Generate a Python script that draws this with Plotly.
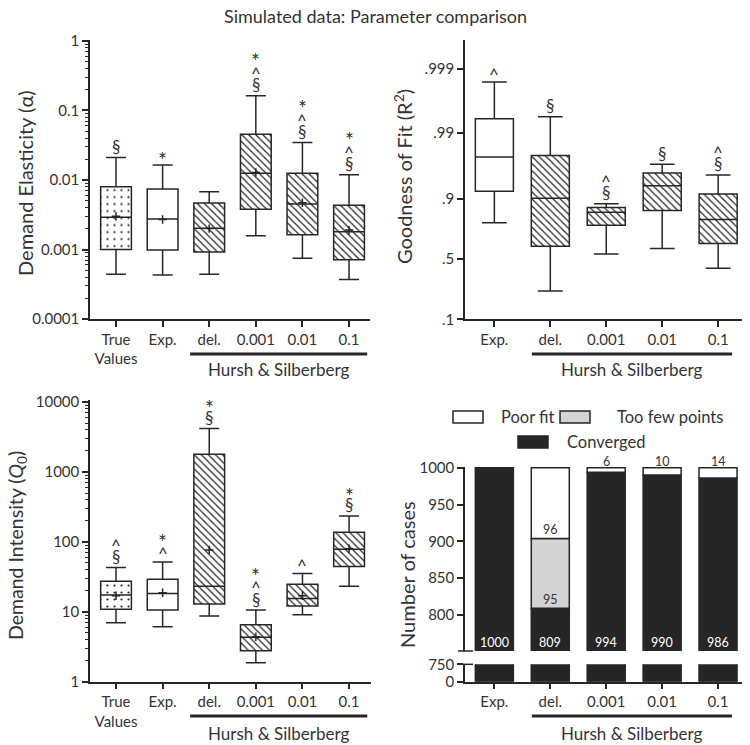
import numpy as np
import plotly.graph_objects as go

# ---------------- data ----------------
alpha_cats = ["True<br>Values", "Exp.", "del.", "0.001", "0.01", "0.1"]
alpha_low = [0.00044, 0.00043, 0.00044, 0.00158, 0.00075, 0.00037]
alpha_q1 = [0.0010, 0.00098, 0.00092, 0.00379, 0.00163, 0.000714]
alpha_med = [0.0029, 0.00275, 0.00202, 0.0125, 0.00452, 0.0018]
alpha_q3 = [0.0080, 0.0074, 0.00467, 0.0454, 0.0125, 0.00432]
alpha_high = [0.021, 0.0164, 0.0068, 0.163, 0.0345, 0.0119]
alpha_mean = [0.0030, 0.0027, 0.0020, 0.0128, 0.0047, 0.0019]
alpha_sig = [["§"], ["*"], [], ["§", "^", "*"], ["§", "^", "*"], ["§", "^", "*"]]

r2_cats = ["Exp.", "del.", "0.001", "0.01", "0.1"]
r2_low = [0.789, 0.238, 0.545, 0.593, 0.416]
r2_q1 = [0.9213, 0.613, 0.773, 0.854, 0.636]
r2_med = [0.9761, 0.9008, 0.845, 0.935, 0.807]
r2_q3 = [0.99395, 0.9774, 0.867, 0.958, 0.914]
r2_high = [0.9984, 0.99437, 0.882, 0.969, 0.955]
r2_sig = [["^"], ["§"], ["§", "^"], ["§"], ["§", "^"]]
r2_ticks = [0.1, 0.5, 0.9, 0.99, 0.999]
r2_ticktext = [".1", ".5", ".9", ".99", ".999"]

q0_cats = ["True<br>Values", "Exp.", "del.", "0.001", "0.01", "0.1"]
q0_low = [7.0, 6.1, 8.7, 1.87, 9.1, 23.2]
q0_q1 = [10.9, 10.6, 12.9, 2.78, 12.1, 44.4]
q0_med = [17.4, 18.2, 23.2, 4.31, 15.5, 78.5]
q0_q3 = [27.4, 29.2, 1800, 6.55, 24.8, 137]
q0_high = [42.9, 51.7, 4200, 10.6, 35.2, 235]
q0_mean = [17.0, 18.7, 76.8, 4.4, 17.0, 80.0]
q0_sig = [["§", "^"], ["^", "*"], ["§", "*"], ["§", "^", "*"], ["^"], ["§", "*"]]

fit_cats = ["Exp.", "del.", "0.001", "0.01", "0.1"]
converged = [1000, 809, 994, 990, 986]
too_few = [0, 95, 0, 0, 0]
poor_fit = [0, 96, 6, 10, 14]

group_label = "Hursh & Silberberg"

# ---------------- style ----------------
PAGE_OFF = 8                  # default page margin of the html body
W, H = 750 - PAGE_OFF, 745 - PAGE_OFF
FONT = "Lato"
INK = "#262626"
TXT = "#333333"
TICKF = dict(family=FONT, size=15, color=TXT)


def px(x):
    return (x - PAGE_OFF) / W


def py(y):
    return 1 - (y - PAGE_OFF) / H


def logit10(p):
    p = np.asarray(p, dtype=float)
    return np.log10(p / (1 - p))


fig = go.Figure()

pat6 = dict(shape=[".", "", "\\", "\\", "\\", "\\"], size=[7, 5, 5, 5, 5, 5],
            solidity=[0.08, 0.25, 0.25, 0.25, 0.25, 0.25])
pat5 = dict(shape=["", "\\", "\\", "\\", "\\"], size=5, solidity=0.25)


def add_boxes(xa, ya, low, q1, med, q3, high, mean, pat, width):
    pos = list(range(len(q1)))
    fig.add_trace(go.Bar(
        x=pos, y=[b - a for a, b in zip(q1, q3)], base=q1, width=width,
        xaxis=xa, yaxis=ya, showlegend=False, hoverinfo="skip",
        marker=dict(color="white", line=dict(width=0),
                    pattern=dict(fgcolor=INK, bgcolor="white", fillmode="replace", **pat))))
    fig.add_trace(go.Box(
        x=pos, q1=q1, median=med, q3=q3, lowerfence=low, upperfence=high,
        width=width, whiskerwidth=0.65, fillcolor="rgba(0,0,0,0)",
        line=dict(color=INK, width=1.5), boxpoints=False,
        xaxis=xa, yaxis=ya, showlegend=False))
    if mean is not None:
        fig.add_trace(go.Scatter(
            x=pos, y=mean, mode="markers", xaxis=xa, yaxis=ya, showlegend=False,
            marker=dict(symbol="cross-thin", size=6, line=dict(width=1.5, color=INK))))


add_boxes("x", "y", alpha_low, alpha_q1, alpha_med, alpha_q3, alpha_high, alpha_mean, pat6, 0.66)
add_boxes("x2", "y2", list(logit10(r2_low)), list(logit10(r2_q1)), list(logit10(r2_med)),
          list(logit10(r2_q3)), list(logit10(r2_high)), None, pat5, 0.68)
add_boxes("x3", "y3", q0_low, q0_q1, q0_med, q0_q3, q0_high, q0_mean, pat6, 0.66)

# ---- significance marks ----
glyph_size = {"§": 17, "^": 17, "*": 21}
glyph_off = {"§": 0, "^": 3, "*": 5}


def add_sig(xa, ya, tops, sigs, islog):
    for i, (top, marks) in enumerate(zip(tops, sigs)):
        for k, m in enumerate(marks):
            fig.add_annotation(
                x=i, y=(np.log10(top) if islog else top), xref=xa, yref=ya,
                text=m, showarrow=False, yanchor="middle", xanchor="center",
                yshift=11 + 14.5 * k - glyph_off[m],
                font=dict(family=FONT, size=glyph_size[m], color=TXT))


add_sig("x", "y", alpha_high, alpha_sig, True)
add_sig("x2", "y2", list(logit10(r2_high)), r2_sig, False)
add_sig("x3", "y3", q0_high, q0_sig, True)

# ---- fit outcome bars (broken axis) ----
pos5 = list(range(len(converged)))
nz = lambda v: [x if x > 0 else None for x in v]
bar_line = dict(color=INK, width=1.5)
fig.add_trace(go.Bar(x=pos5, y=converged, width=0.68, xaxis="x4", yaxis="y4",
                     marker=dict(color="#262626", line=bar_line), showlegend=False))
fig.add_trace(go.Bar(x=pos5, y=nz(too_few), base=converged, width=0.68, xaxis="x4", yaxis="y4",
                     marker=dict(color="#d3d3d3", line=bar_line), showlegend=False))
fig.add_trace(go.Bar(x=pos5, y=nz(poor_fit), base=[c + t for c, t in zip(converged, too_few)],
                     width=0.68, xaxis="x4", yaxis="y4",
                     marker=dict(color="white", line=bar_line), showlegend=False))
fig.add_trace(go.Bar(x=pos5, y=converged, width=0.68, xaxis="x5", yaxis="y5",
                     marker=dict(color="#262626", line=bar_line), showlegend=False))

lab_font = dict(family=FONT, size=12.5, color=TXT)
for i in pos5:
    fig.add_annotation(x=i, y=751, xref="x4", yref="y4", text=str(converged[i]),
                       showarrow=False, yanchor="bottom", yshift=-1,
                       font=dict(family=FONT, size=12.5, color="white"))
    if too_few[i] > 0:
        fig.add_annotation(x=i, y=converged[i], xref="x4", yref="y4", text=str(too_few[i]),
                           showarrow=False, yanchor="bottom", yshift=-1, font=lab_font)
    if poor_fit[i] > 0:
        base = converged[i] + too_few[i]
        if poor_fit[i] > 30:
            fig.add_annotation(x=i, y=base, xref="x4", yref="y4", text=str(poor_fit[i]),
                               showarrow=False, yanchor="bottom", yshift=-1, font=lab_font)
        else:
            fig.add_annotation(x=i, y=base + poor_fit[i], xref="x4", yref="y4",
                               text=str(poor_fit[i]), showarrow=False, yanchor="bottom",
                               yshift=-3, font=lab_font)

# ---------------- axes ----------------
axline = dict(showline=True, linecolor=INK, linewidth=1.5, ticks="outside",
              tickcolor=INK, tickwidth=1.5, ticklen=6, tickfont=TICKF,
              showgrid=False, zeroline=False, fixedrange=True, automargin=False)


def log_minor(lo, hi):
    return [k * 10.0 ** e for e in range(lo, hi) for k in range(2, 10)]


minor_style = dict(ticklen=3, ticks="outside", tickcolor=INK, tickwidth=1, showgrid=False)

layout = dict(
    width=W, height=H, margin=dict(l=0, r=0, t=0, b=0, pad=0, autoexpand=False),
    paper_bgcolor="white", plot_bgcolor="white",
    barmode="overlay", boxmode="overlay", showlegend=False,
    font=dict(family=FONT, color=TXT),
    xaxis=dict(domain=[px(90), px(370)], range=[-0.558, 5.45], anchor="y",
               tickvals=list(range(6)), ticktext=alpha_cats, **axline),
    yaxis=dict(domain=[py(319), py(39.6)], type="log", range=[-4, 0.02], anchor="x",
               tickvals=[0.0001, 0.001, 0.01, 0.1, 1],
               ticktext=["0.0001", "0.001", "0.01", "0.1", "1"],
               minor=dict(tickvals=log_minor(-4, 0), **minor_style), **axline),
    xaxis2=dict(domain=[px(465), px(745)], range=[-0.525, 4.48], anchor="y2",
                tickvals=list(range(5)), ticktext=r2_cats, **axline),
    yaxis2=dict(domain=[py(319.3), py(40)], range=[float(logit10(0.1)), 3.46], anchor="x2",
                tickvals=list(logit10(r2_ticks)), ticktext=r2_ticktext, **axline),
    xaxis3=dict(domain=[px(90), px(371)], range=[-0.558, 5.47], anchor="y3",
                tickvals=list(range(6)), ticktext=q0_cats, **axline),
    yaxis3=dict(domain=[py(681.7), py(400)], type="log", range=[0, 4.03], anchor="x3",
                tickvals=[1, 10, 100, 1000, 10000],
                ticktext=["1", "10", "100", "1000", "10000"],
                minor=dict(tickvals=log_minor(0, 4), **minor_style), **axline),
    xaxis4=dict(domain=[px(465), px(746)], range=[-0.525, 4.5], anchor="y4",
                showline=False, showticklabels=False, ticks="", showgrid=False,
                zeroline=False, fixedrange=True, automargin=False),
    yaxis4=dict(domain=[py(651), py(467)], range=[751, 1001], anchor="x4",
                tickvals=[800, 850, 900, 950, 1000], **axline),
    xaxis5=dict(domain=[px(465), px(746)], range=[-0.525, 4.5], anchor="y5",
                tickvals=list(range(5)), ticktext=fit_cats, **axline),
    yaxis5=dict(domain=[py(681.7), py(664.3)], range=[0, 750], anchor="x5",
                tickvals=[0, 750], **axline),
)
fig.update_layout(**layout)


# ---------------- titles & decorations ----------------
def paper_text(x, y, text, size, angle=0, xanchor="center"):
    fig.add_annotation(x=px(x), y=py(y), xref="paper", yref="paper", text=text,
                       showarrow=False, textangle=angle, xanchor=xanchor, yanchor="middle",
                       font=dict(family=FONT, size=size, color=TXT))


paper_text(375, 16, "Simulated data: Parameter comparison", 18)
paper_text(25, 183, "Demand Elasticity (α)", 20, -90)
paper_text(403, 177, "Goodness of Fit (R<sup>2</sup>)", 20, -90)
paper_text(17, 546, "Demand Intensity (<i>Q</i><sub>0</sub>)", 19.5, -90)
paper_text(407, 575, "Number of cases", 20, -90)

# group underline + label
groups = [("x", 1.59, 5.39, 354, 369), ("x2", 0.67, 4.25, 354, 369),
          ("x3", 1.59, 5.39, 716, 733), ("x5", 0.67, 4.25, 716, 733)]
for xa, x0, x1, yl, yt in groups:
    fig.add_shape(type="line", xref=xa, yref="paper", x0=x0, x1=x1, y0=py(yl), y1=py(yl),
                  line=dict(color=INK, width=3))
    fig.add_annotation(x=(x0 + x1) / 2, y=py(yt), xref=xa, yref="paper", text=group_label,
                       showarrow=False, xanchor="center", yanchor="middle",
                       font=dict(family=FONT, size=17, color=TXT))

# axis break caps
for yb in (651, 664.3):
    fig.add_shape(type="line", xref="paper", yref="paper", x0=px(458), x1=px(473),
                  y0=py(yb), y1=py(yb), line=dict(color=INK, width=1.5))

# manual legend
leg = [("Poor fit", "white", 453, 417, 499), ("Too few points", "#d3d3d3", 560, 417, 615),
       ("Converged", "#262626", 518, 442, 565)]
for name, col, bx, by, tx in leg:
    fig.add_shape(type="rect", xref="paper", yref="paper", x0=px(bx), x1=px(bx + 30),
                  y0=py(by + 6), y1=py(by - 6), fillcolor=col, line=dict(color=INK, width=1.5))
    paper_text(tx, by, name, 16.5, 0, "left")

fig.write_html("out.html")
